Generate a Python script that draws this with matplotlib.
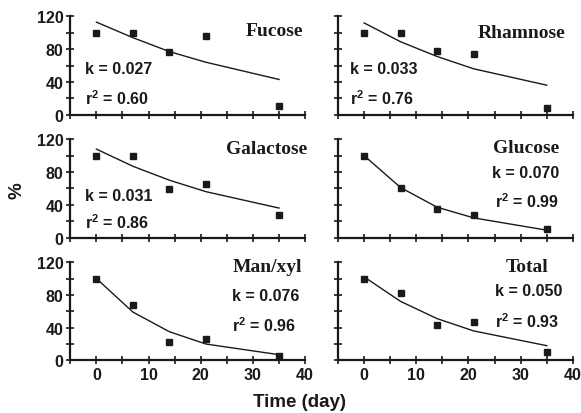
import matplotlib
matplotlib.use("Agg")
import matplotlib.pyplot as plt

plt.rcParams['font.family'] = ['Liberation Sans', 'DejaVu Sans']
plt.rcParams['mathtext.fontset'] = 'custom'
plt.rcParams['mathtext.bf'] = 'Liberation Sans:bold'
plt.rcParams['mathtext.rm'] = 'Liberation Sans:bold'

# sampling days
days = [0, 7, 14, 21, 35]

# measured values (% remaining)
fucose = [100, 100, 77, 96, 10]
rhamnose = [100, 100, 78, 74, 8]
galactose = [100, 100, 59, 65, 27]
glucose = [100, 60, 35, 27, 10]
manxyl = [100, 68, 23, 26, 6]
total = [100, 82, 43, 47, 10]

# fitted curves
fucose_fit = [113, 94, 77, 64, 43]
rhamnose_fit = [112, 89, 71, 56, 36]
galactose_fit = [108, 87, 70, 56, 36]
glucose_fit = [100, 61, 37, 24, 9]
manxyl_fit = [100, 59, 35, 20, 7]
total_fit = [102, 72, 51, 36, 18]

names = ["Fucose", "Rhamnose", "Galactose", "Glucose", "Man/xyl", "Total"]
k_vals = ["0.027", "0.033", "0.031", "0.070", "0.076", "0.050"]
r2_vals = ["0.60", "0.76", "0.86", "0.99", "0.96", "0.93"]
measured = [fucose, rhamnose, galactose, glucose, manxyl, total]
fitted = [fucose_fit, rhamnose_fit, galactose_fit, glucose_fit, manxyl_fit, total_fit]

# text placement in axes fraction: (name x, name y, k x, k y, r2 y, name ha, k ha)
layout = [
    (0.99, 0.94, 0.064, 0.47, 0.17, 'right', 'left'),
    (0.97, 0.92, 0.051, 0.47, 0.17, 'right', 'left'),
    (1.01, 0.99, 0.064, 0.43, 0.16, 'right', 'left'),
    (0.94, 1.00, 0.94, 0.66, 0.38, 'right', 'right'),
    (0.69, 1.04, 0.69, 0.66, 0.36, 'left', 'left'),
    (0.805, 1.04, 0.67, 0.71, 0.40, 'center', 'left'),
]

ink = '#1a1a1a'
fig, axes = plt.subplots(3, 2, figsize=(5.81, 4.14), dpi=100)
fig.subplots_adjust(left=0.121, right=0.986, top=0.958, bottom=0.127,
                    wspace=0.14, hspace=0.25)

for i, ax in enumerate(axes.flat):
    ax.plot(days, fitted[i], color=ink, lw=1.0)
    ax.plot(days, measured[i], 's', color=ink, ms=4.8, clip_on=False)
    ax.set_xlim(-5, 40)
    ax.set_ylim(0, 120)
    ax.set_xticks([0, 10, 20, 30, 40])
    ax.set_xticks([-5, 5, 15, 25, 35], minor=True)
    ax.set_yticks([0, 40, 80, 120])
    ax.set_yticks([20, 60, 100], minor=True)
    for s in ['top', 'right']:
        ax.spines[s].set_visible(False)
    for s in ['left', 'bottom']:
        ax.spines[s].set_linewidth(1.6)
        ax.spines[s].set_color(ink)
    ax.tick_params(which='both', direction='inout', length=6, width=1.2,
                   color=ink, labelsize=11.5, labelcolor=ink, pad=2)
    for lab in ax.get_xticklabels() + ax.get_yticklabels():
        lab.set_fontweight('bold')
    if i < 4:
        ax.tick_params(labelbottom=False)
    if i % 2 == 1:
        ax.tick_params(labelleft=False)

    nx, ny, kx, ky, ry, nha, kha = layout[i]
    ax.text(nx, ny, names[i], transform=ax.transAxes, ha=nha, va='top',
            fontsize=14, fontweight='bold', family='Liberation Serif', color=ink)
    ax.text(kx, ky, "k = " + k_vals[i], transform=ax.transAxes, ha=kha,
            va='center', fontsize=11.5, fontweight='bold', color=ink)
    ax.text(kx, ry, r"$\mathbf{r^{2}}$ = " + r2_vals[i], transform=ax.transAxes,
            ha=kha, va='center', fontsize=11.5, fontweight='bold', color=ink)

fig.text(0.515, 0.027, "Time (day)", ha='center', va='center',
         fontsize=13.5, fontweight='bold', color=ink)
fig.text(0.03, 0.54, "%", ha='center', va='center', rotation=90,
         fontsize=13.5, fontweight='bold', color=ink)

fig.savefig("out.png", dpi=100)
